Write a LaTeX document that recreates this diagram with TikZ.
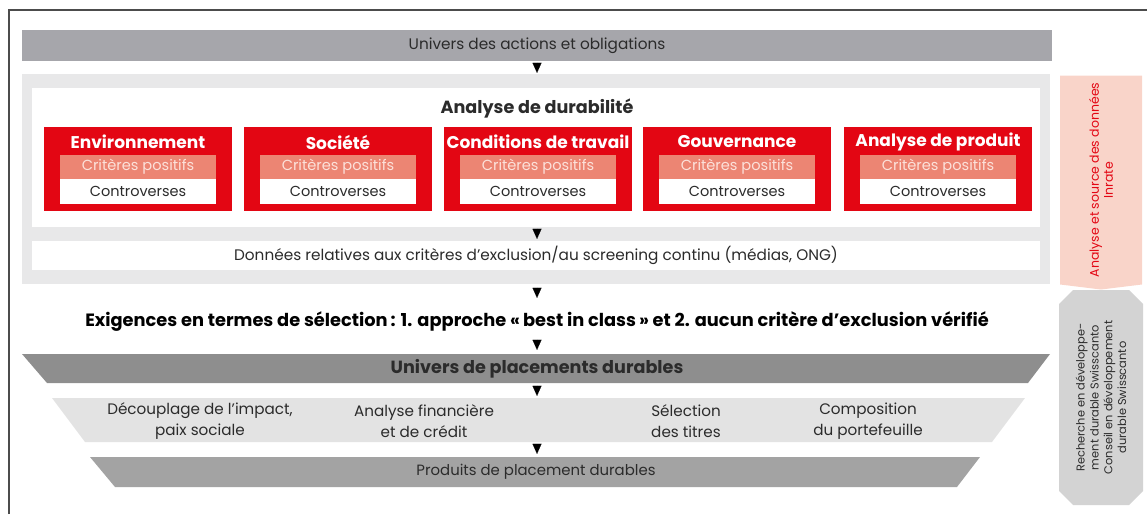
\documentclass[tikz,border=0pt]{standalone}
\usepackage{fontspec}
\setmainfont{Poppins}
\usetikzlibrary{shapes.symbols, shapes.misc, arrows.meta}

\definecolor{sqred}{HTML}{E30613}
\definecolor{sqsalmon}{HTML}{EC8573}
\definecolor{sqpink}{HTML}{FCE1DA}
\definecolor{sqside}{HTML}{F9D4C9}
\definecolor{sqbar}{HTML}{A6A6AB}
\definecolor{sqdark}{HTML}{8E8E8E}
\definecolor{sqmid}{HTML}{A3A3A3}
\definecolor{sqlight}{HTML}{E3E3E3}
\definecolor{sqgray}{HTML}{D3D3D3}
\definecolor{sqpanel}{HTML}{E8E8E9}
\definecolor{sqtext}{HTML}{2B2B2B}

\tikzstyle{topbar} = [
    rectangle,
    fill=sqbar,
    minimum width=1030pt,
    minimum height=31pt,
    inner sep=0pt,
    text=sqtext,
    font=\fontsize{15.3}{17}\selectfont
]
\tikzstyle{whitebox} = [
    rectangle,
    fill=white,
    minimum width=1008pt,
    inner sep=0pt,
    text=sqtext,
    font=\fontsize{15.3}{17}\selectfont
]
\tikzstyle{critbox} = [
    rectangle,
    fill=sqred,
    minimum width=188pt,
    minimum height=84pt
]
\tikzstyle{crittitle} = [
    inner sep=0pt,
    text=white,
    font=\bfseries\fontsize{17}{19}\selectfont
]
\tikzstyle{critpos} = [
    rectangle,
    fill=sqsalmon,
    minimum width=156pt,
    minimum height=24pt,
    inner sep=0pt,
    text=sqpink,
    font=\fontsize{14.6}{16}\selectfont
]
\tikzstyle{critcon} = [
    rectangle,
    fill=white,
    minimum width=156pt,
    minimum height=25pt,
    inner sep=0pt,
    text=sqtext,
    font=\fontsize{14.5}{16}\selectfont
]
\tikzstyle{stage} = [
    rectangle,
    inner sep=0pt,
    text=sqtext
]
\tikzstyle{steptext} = [
    align=center,
    inner sep=0pt,
    text=sqtext,
    font=\fontsize{15.2}{21}\selectfont
]
\tikzstyle{sidepink} = [
    signal,
    signal to=west,
    signal pointer angle=166,
    rotate=90,
    fill=sqside,
    minimum width=214pt,
    minimum height=82pt,
    align=center,
    inner sep=0pt,
    text=sqred,
    font=\fontsize{12.5}{14}\selectfont
]
\tikzstyle{sidegray} = [
    chamfered rectangle,
    chamfered rectangle xsep=7pt,
    chamfered rectangle ysep=7pt,
    rotate=90,
    fill=sqgray,
    minimum width=215pt,
    minimum height=84pt,
    align=center,
    inner sep=0pt,
    text=sqtext,
    font=\fontsize{11.4}{13.8}\selectfont
]
\tikzstyle{arrow} = [-{Triangle[length=10pt, width=9pt]}, line width=0.01pt]

\begin{document}
\begin{tikzpicture}[x=1pt, y=-1pt]

\useasboundingbox (0,0) rectangle (1147,514);

\draw [line width=1.5pt, black!70] (9,514) -- (9,10) -- (1147,10);

\node (actions) [topbar] at (537,45.5) {Univers des actions et obligations};

\node (panel) [rectangle, fill=sqpanel, minimum width=1028pt, minimum height=210pt] at (536,179) {};
\node (durab) [whitebox, minimum height=139pt] at (536,157.5) {};
\node (donnees) [whitebox, minimum height=29pt] at (536,255.5)
{Données relatives aux critères d’exclusion/au screening continu (médias, ONG)};

\node (durabtitle) [inner sep=0pt, text=sqtext, font=\bfseries\fontsize{17.6}{19}\selectfont] at (537,108)
{Analyse de durabilité};

\node (env) [critbox] at (138,169) {};
\node (envtitle) [crittitle] at (138,142) {Environnement};
\node (envpos) [critpos] at (138,167) {Critères positifs};
\node (envcon) [critcon] at (138,191.5) {Controverses};

\node (soc) [critbox] at (338,169) {};
\node (soctitle) [crittitle] at (338,142) {Société};
\node (socpos) [critpos] at (338,167) {Critères positifs};
\node (soccon) [critcon] at (338,191.5) {Controverses};

\node (trav) [critbox] at (538,169) {};
\node (travtitle) [crittitle] at (538,142) {Conditions de travail};
\node (travpos) [critpos] at (538,167) {Critères positifs};
\node (travcon) [critcon] at (538,191.5) {Controverses};

\node (gouv) [critbox] at (737,169) {};
\node (gouvtitle) [crittitle] at (737,142) {Gouvernance};
\node (gouvpos) [critpos] at (737,167) {Critères positifs};
\node (gouvcon) [critcon] at (737,191.5) {Controverses};

\node (prod) [critbox] at (938,169) {};
\node (prodtitle) [crittitle] at (938,142) {Analyse de produit};
\node (prodpos) [critpos] at (938,167) {Critères positifs};
\node (prodcon) [critcon] at (938,191.5) {Controverses};

\node (exig) [inner sep=0pt, minimum height=24pt, text=black, font=\bfseries\fontsize{17.8}{19}\selectfont] at (537,322)
{Exigences en termes de sélection\,: 1. approche «\,best in class\,» et 2. aucun critère d’exclusion vérifié};

\fill [sqdark] (22,354) -- (1050,354) -- (1028,383) -- (47,383) -- cycle;
\node (placements) [stage, minimum width=980pt, minimum height=29pt, font=\bfseries\fontsize{17.6}{19}\selectfont] at (537,368.5)
{Univers de placements durables};

\fill [sqlight] (52,398) -- (1025,398) -- (992,442) -- (85,442) -- cycle;
\node (steps) [stage, minimum width=900pt, minimum height=44pt] at (537,420) {};
\node (impact) [steptext] at (200,421) {Découplage de l’impact,\\paix sociale};
\node (finance) [steptext] at (424,421) {Analyse financière\\et de crédit};
\node (titres) [steptext] at (686,421) {Sélection\\des titres};
\node (portef) [steptext] at (868,421) {Composition\\du portefeuille};

\fill [sqmid] (90,457) -- (980,457) -- (957,487) -- (115,487) -- cycle;
\node (produits) [stage, minimum width=840pt, minimum height=30pt, font=\fontsize{14.9}{17}\selectfont] at (536,472)
{Produits de placement durables};

\node (inrate) [sidepink] at (1101,180) {Analyse et source des données\\Inrate};
\node (swisscanto) [sidegray] at (1101,397.5)
{Recherche en développe-\\ment durable Swisscanto\\Conseil en développement\\durable Swisscanto};

\draw [arrow, shorten <=1.5pt, shorten >=1pt] (actions.south) -- (actions.south |- panel.north);
\draw [arrow, shorten <=1.5pt, shorten >=2pt] (actions.south |- durab.south) -- (actions.south |- donnees.north);
\draw [arrow, shorten <=3.5pt, shorten >=12pt] (actions.south |- panel.south) -- (exig.north);
\draw [arrow, shorten <=5.5pt, shorten >=4pt] (exig.south) -- (placements.north);
\draw [arrow, shorten <=2.5pt, shorten >=2pt] (placements.south) -- (placements.south |- steps.north);
\draw [arrow, shorten <=2pt, shorten >=3pt] (placements.south |- steps.south) -- (placements.south |- produits.north);

\end{tikzpicture}
\end{document}
